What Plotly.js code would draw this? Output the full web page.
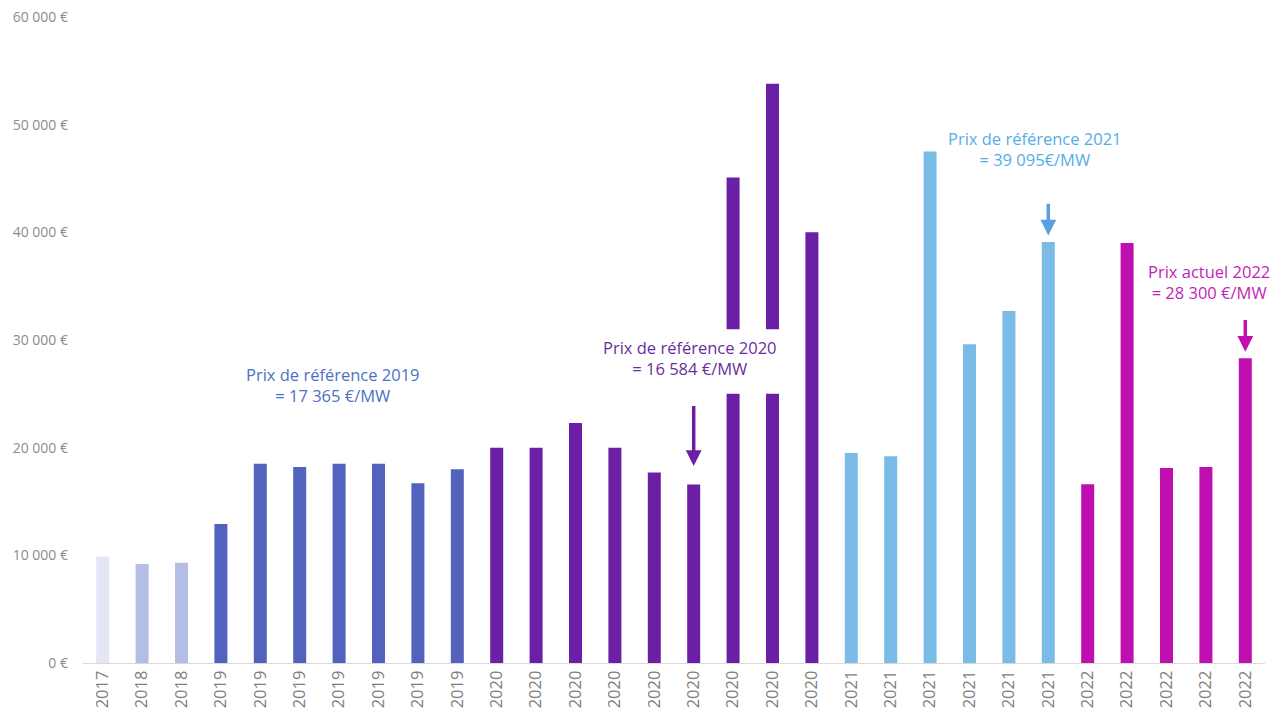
<!DOCTYPE html>
<html>
<head>
<meta charset="utf-8">
<script src="https://cdn.plot.ly/plotly-3.0.1.min.js"></script>
<style>html,body{margin:0;padding:0;background:#fff;}#chart{width:1288px;height:718px;}</style>
</head>
<body>
<div id="chart"></div>
<script>
// Data
const yearLabels = ["2017","2018","2018","2019","2019","2019","2019","2019","2019","2019",
  "2020","2020","2020","2020","2020","2020","2020","2020","2020",
  "2021","2021","2021","2021","2021","2021",
  "2022","2022","2022","2022","2022"];
const prices = [9900, 9200, 9300, 12900, 18500, 18200, 18500, 18500, 16700, 18000,
  20000, 20000, 22300, 20000, 17700, 16584, 45100, 53800, 40000,
  19500, 19200, 47500, 29600, 32700, 39095,
  16600, 39000, 18100, 18200, 28300];
// axis-break (white gap) drawn on the two tallest 2020 bars
const breakIndex = [16, 17];
const breakFrom = [25000, 25000];
const breakTo = [31000, 31000];
const yTickValues = [0, 10000, 20000, 30000, 40000, 50000, 60000];
const yTickLabels = ["0 €", "10 000 €", "20 000 €", "30 000 €", "40 000 €", "50 000 €", "60 000 €"];
const refNotes = [
  {text: "Prix de référence 2019<br>= 17 365 €/MW", year: "2019"},
  {text: "Prix de référence 2020<br>= 16 584 €/MW", year: "2020"},
  {text: "Prix de référence 2021<br>= 39 095€/MW", year: "2021"},
  {text: "Prix actuel 2022<br>= 28 300 €/MW", year: "2022"}
];

// styles
const barColors = {"2017": "#e3e7f3", "2018": "#b4bde3", "2019": "#5262bd", "2020": "#6a1fa4", "2021": "#7bbbe8", "2022": "#c00fb0"};
const noteColors = {"2019": "#4a72c4", "2020": "#6b2d9c", "2021": "#55ade6", "2022": "#c21fb3"};
const arrowColors = {"2020": "#6a1fa4", "2021": "#5b9fe0", "2022": "#c00fb0"};

const idx = yearLabels.map((_, i) => i);

const traces = [
  {type: "bar", x: idx, y: prices, marker: {color: yearLabels.map(y => barColors[y])}, hoverinfo: "y", showlegend: false},
  {type: "bar", x: breakIndex, y: breakTo.map((t, i) => t - breakFrom[i]), base: breakFrom,
   marker: {color: "#ffffff"}, width: 0.5, hoverinfo: "skip", showlegend: false}
];

// annotation placement (text positions in data coords)
const notePos = [
  {x: 5.84, y: 25800},
  {x: 14.9, y: 28330},
  {x: 23.67, y: 47740},
  {x: 28.09, y: 35390}
];
const annotations = refNotes.map((n, i) => ({
  text: n.text, x: notePos[i].x, y: notePos[i].y, xref: "x", yref: "y", showarrow: false,
  font: {family: "Open Sans, sans-serif", size: 16.5, color: noteColors[n.year]}, align: "center"
}));
// arrows pointing to the reference bars
const arrowDefs = [
  {i: 15, tip: 18300, tail: 24000, year: "2020"},
  {i: 24, tip: 39700, tail: 42800, year: "2021"},
  {i: 29, tip: 28900, tail: 32000, year: "2022"}
];
arrowDefs.forEach(a => annotations.push({
  x: a.i, y: a.tip, ax: a.i, ay: a.tail, xref: "x", yref: "y", axref: "x", ayref: "y",
  text: "", showarrow: true, arrowhead: 2, arrowsize: 0.9, arrowwidth: 3.5, arrowcolor: arrowColors[a.year]
}));

const layout = {
  width: 1288, height: 718,
  margin: {l: 83, r: 23, t: 17, b: 55},
  paper_bgcolor: "#ffffff", plot_bgcolor: "#ffffff",
  barmode: "overlay", bargap: 0.67,
  font: {family: "Open Sans, sans-serif"},
  xaxis: {
    tickmode: "array", tickvals: idx, ticktext: yearLabels, tickangle: -90,
    tickfont: {size: 16.5, color: "#808080"}, showgrid: false, zeroline: false,
    showline: true, linecolor: "#d9d9d9", linewidth: 1, ticks: "", range: [-0.5, 29.5],
    fixedrange: true
  },
  yaxis: {
    range: [0, 60000], tickmode: "array", tickvals: yTickValues, ticktext: yTickLabels,
    tickfont: {size: 14, color: "#8c8c8c"}, showgrid: false, zeroline: false, showline: false,
    ticks: "", ticklabelstandoff: 14, fixedrange: true
  },
  annotations: annotations
};

Plotly.newPlot("chart", traces, layout, {staticPlot: true});
</script>
</body>
</html>
